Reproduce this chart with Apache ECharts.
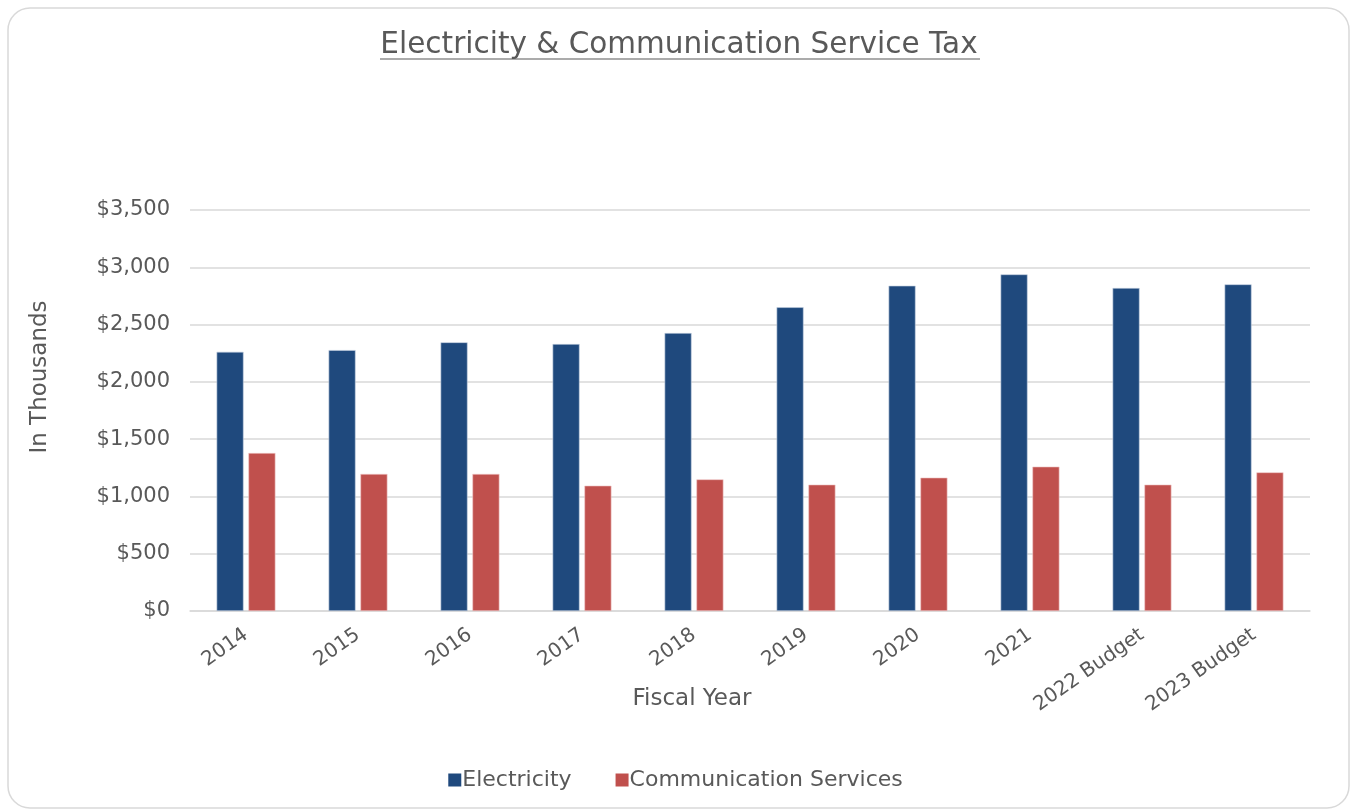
<!DOCTYPE html>
<html><head><meta charset="utf-8">
<script src="https://cdn.jsdelivr.net/npm/echarts@6/dist/echarts.min.js"></script>
<style>html,body{margin:0;padding:0;background:#fff}#c{width:1351px;height:810px}</style>
</head><body><div id="c"></div>
<script>
const categories = ['2014','2015','2016','2017','2018','2019','2020','2021','2022 Budget','2023 Budget'];
const electricity = [2262, 2277, 2345, 2330, 2426, 2651, 2839, 2938, 2819, 2851];
const communication = [1379, 1196, 1196, 1094, 1149, 1103, 1164, 1260, 1103, 1210];
const yTicks = [0, 500, 1000, 1500, 2000, 2500, 3000, 3500];

const FONT = 'DejaVu Sans';
const TXT = '#595959';
const chart = echarts.init(document.getElementById('c'));
chart.setOption({
  animation: false,
  textStyle: { fontFamily: FONT },
  graphic: [
    { type: 'rect', shape: { x: 8, y: 8, width: 1341, height: 800, r: 22 }, style: { fill: '#fff', stroke: '#d9d9d9', lineWidth: 1.5 }, z: -10 },
    { type: 'text', x: 679, y: 45, style: { text: 'Electricity & Communication Service Tax', font: '29.5px ' + FONT, fill: TXT, align: 'center', verticalAlign: 'middle' } },
    { type: 'line', shape: { x1: 380, y1: 59, x2: 980, y2: 59 }, style: { stroke: TXT, lineWidth: 1.2 } },
    { type: 'text', x: 40, y: 377, rotation: Math.PI / 2, style: { text: 'In Thousands', font: '23px ' + FONT, fill: TXT, align: 'center', verticalAlign: 'middle' } },
    { type: 'text', x: 692, y: 699, style: { text: 'Fiscal Year', font: '23px ' + FONT, fill: TXT, align: 'center', verticalAlign: 'middle' } }
  ],
  legend: {
    top: 764, left: 'center', itemWidth: 13, itemHeight: 13, itemGap: 44,
    icon: 'rect',
    itemStyle: { borderWidth: 0 },
    textStyle: { fontSize: 22, color: TXT, fontFamily: FONT, padding: [0, 0, 0, -4] },
    data: ['Electricity', 'Communication Services']
  },
  grid: { left: 190, right: 41, top: 210, bottom: 199 },
  xAxis: {
    type: 'category', data: categories,
    axisLine: { lineStyle: { color: '#d9d9d9', width: 1.5 } },
    axisTick: { show: false },
    axisLabel: { rotate: 35, fontSize: 20, color: TXT, margin: 22, fontFamily: FONT, interval: 0 }
  },
  yAxis: {
    type: 'value', min: yTicks[0], max: yTicks[yTicks.length - 1], interval: 500,
    axisLine: { show: false }, axisTick: { show: false },
    splitLine: { lineStyle: { color: '#d9d9d9', width: 1.5 } },
    axisLabel: { fontSize: 21, color: TXT, margin: 20, fontFamily: FONT,
      formatter: v => '$' + v.toLocaleString('en-US') }
  },
  series: [
    { name: 'Electricity', type: 'bar', data: electricity, barWidth: 27, barGap: '18%',
      itemStyle: { color: '#1f497d', borderColor: '#c5d0e0', borderWidth: 0.6 } },
    { name: 'Communication Services', type: 'bar', data: communication, barWidth: 27,
      itemStyle: { color: '#c0504d', borderColor: '#f0c8c7', borderWidth: 0.6 } }
  ]
});
</script></body></html>
